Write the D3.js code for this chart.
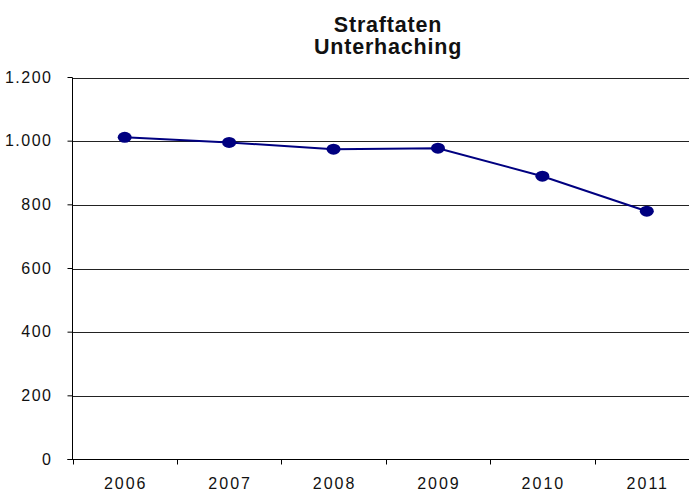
<!DOCTYPE html>
<html>
<head>
<meta charset="utf-8">
<script src="https://cdn.jsdelivr.net/npm/d3@7"></script>
<style>
  html, body { margin: 0; padding: 0; background: #fff; }
  svg { display: block; }
  text { font-family: "Liberation Sans", Arial, sans-serif; fill: #111; }
</style>
</head>
<body>
<svg id="chart" width="689" height="491"></svg>
<script>
// Recorded offences in Unterhaching per year
const years = ["2006", "2007", "2008", "2009", "2010", "2011"];
const offences = [1012, 996, 975, 978, 890, 780];
const yTicks = [0, 200, 400, 600, 800, 1000, 1200];
const titleLines = ["Straftaten", "Unterhaching"];

const W = 689, H = 491;
const plot = { left: 72.5, right: 699, top: 77.5, bottom: 459.5 };

const svg = d3.select("#chart");

const x = d3.scaleBand().domain(years).range([plot.left, plot.right]).paddingInner(0).paddingOuter(0);
const y = d3.scaleLinear().domain([0, 1200]).range([plot.bottom, plot.top]);

const fmt = v => d3.format(",")(v).replace(/,/g, ".");

// horizontal gridlines
svg.append("g")
  .selectAll("line")
  .data(yTicks.filter(t => t > 0))
  .join("line")
  .attr("x1", plot.left).attr("x2", W)
  .attr("y1", d => Math.round(y(d)) + 0.5).attr("y2", d => Math.round(y(d)) + 0.5)
  .attr("stroke", "#222").attr("stroke-width", 1);

// y axis
const yAxis = svg.append("g")
  .attr("transform", `translate(${plot.left},0)`)
  .call(d3.axisLeft(y).tickValues(yTicks).tickSize(5).tickPadding(15).tickFormat(fmt).offset(0));
yAxis.select(".domain").attr("stroke", "#000").attr("d", `M0,${plot.top}V${plot.bottom}`);
yAxis.selectAll(".tick line").attr("stroke", "#000");
yAxis.selectAll(".tick text")
  .style("font-size", "16px").style("letter-spacing", "1.5px")
  .attr("fill", "#111").attr("font-family", null);

// x axis with ticks at category boundaries
const xAxisG = svg.append("g").attr("transform", `translate(0,${plot.bottom})`);
xAxisG.append("line")
  .attr("x1", plot.left - 5).attr("x2", W)
  .attr("y1", 0).attr("y2", 0)
  .attr("stroke", "#000");
const bounds = years.map(d => x(d)).concat([plot.right]);
xAxisG.selectAll("line.tk")
  .data(bounds)
  .join("line").attr("class", "tk")
  .attr("x1", d => Math.round(d) + 0.5).attr("x2", d => Math.round(d) + 0.5)
  .attr("y1", 0).attr("y2", 5)
  .attr("stroke", "#000");
xAxisG.selectAll("text")
  .data(years)
  .join("text")
  .attr("x", d => x(d) + x.bandwidth() / 2 + 1)
  .attr("y", 29)
  .attr("text-anchor", "middle")
  .style("font-size", "16px").style("letter-spacing", "2px")
  .text(d => d);

// line + markers
const cx = d => x(d) + x.bandwidth() / 2;
const pts = years.map((d, i) => [cx(d), y(offences[i])]);
svg.append("path")
  .attr("d", d3.line()(pts))
  .attr("fill", "none")
  .attr("stroke", "#000080")
  .attr("stroke-width", 2);
svg.append("g")
  .selectAll("ellipse")
  .data(pts)
  .join("ellipse")
  .attr("cx", d => d[0]).attr("cy", d => d[1])
  .attr("rx", 7).attr("ry", 5.5)
  .attr("fill", "#000080");

// title, one text element per line
svg.append("g")
  .selectAll("text")
  .data(titleLines)
  .join("text")
  .attr("x", 388)
  .attr("y", (d, i) => 32 + i * 22)
  .attr("text-anchor", "middle")
  .style("font-size", "21.5px").style("font-weight", "bold").style("letter-spacing", "0.8px")
  .text(d => d);
</script>
</body>
</html>
